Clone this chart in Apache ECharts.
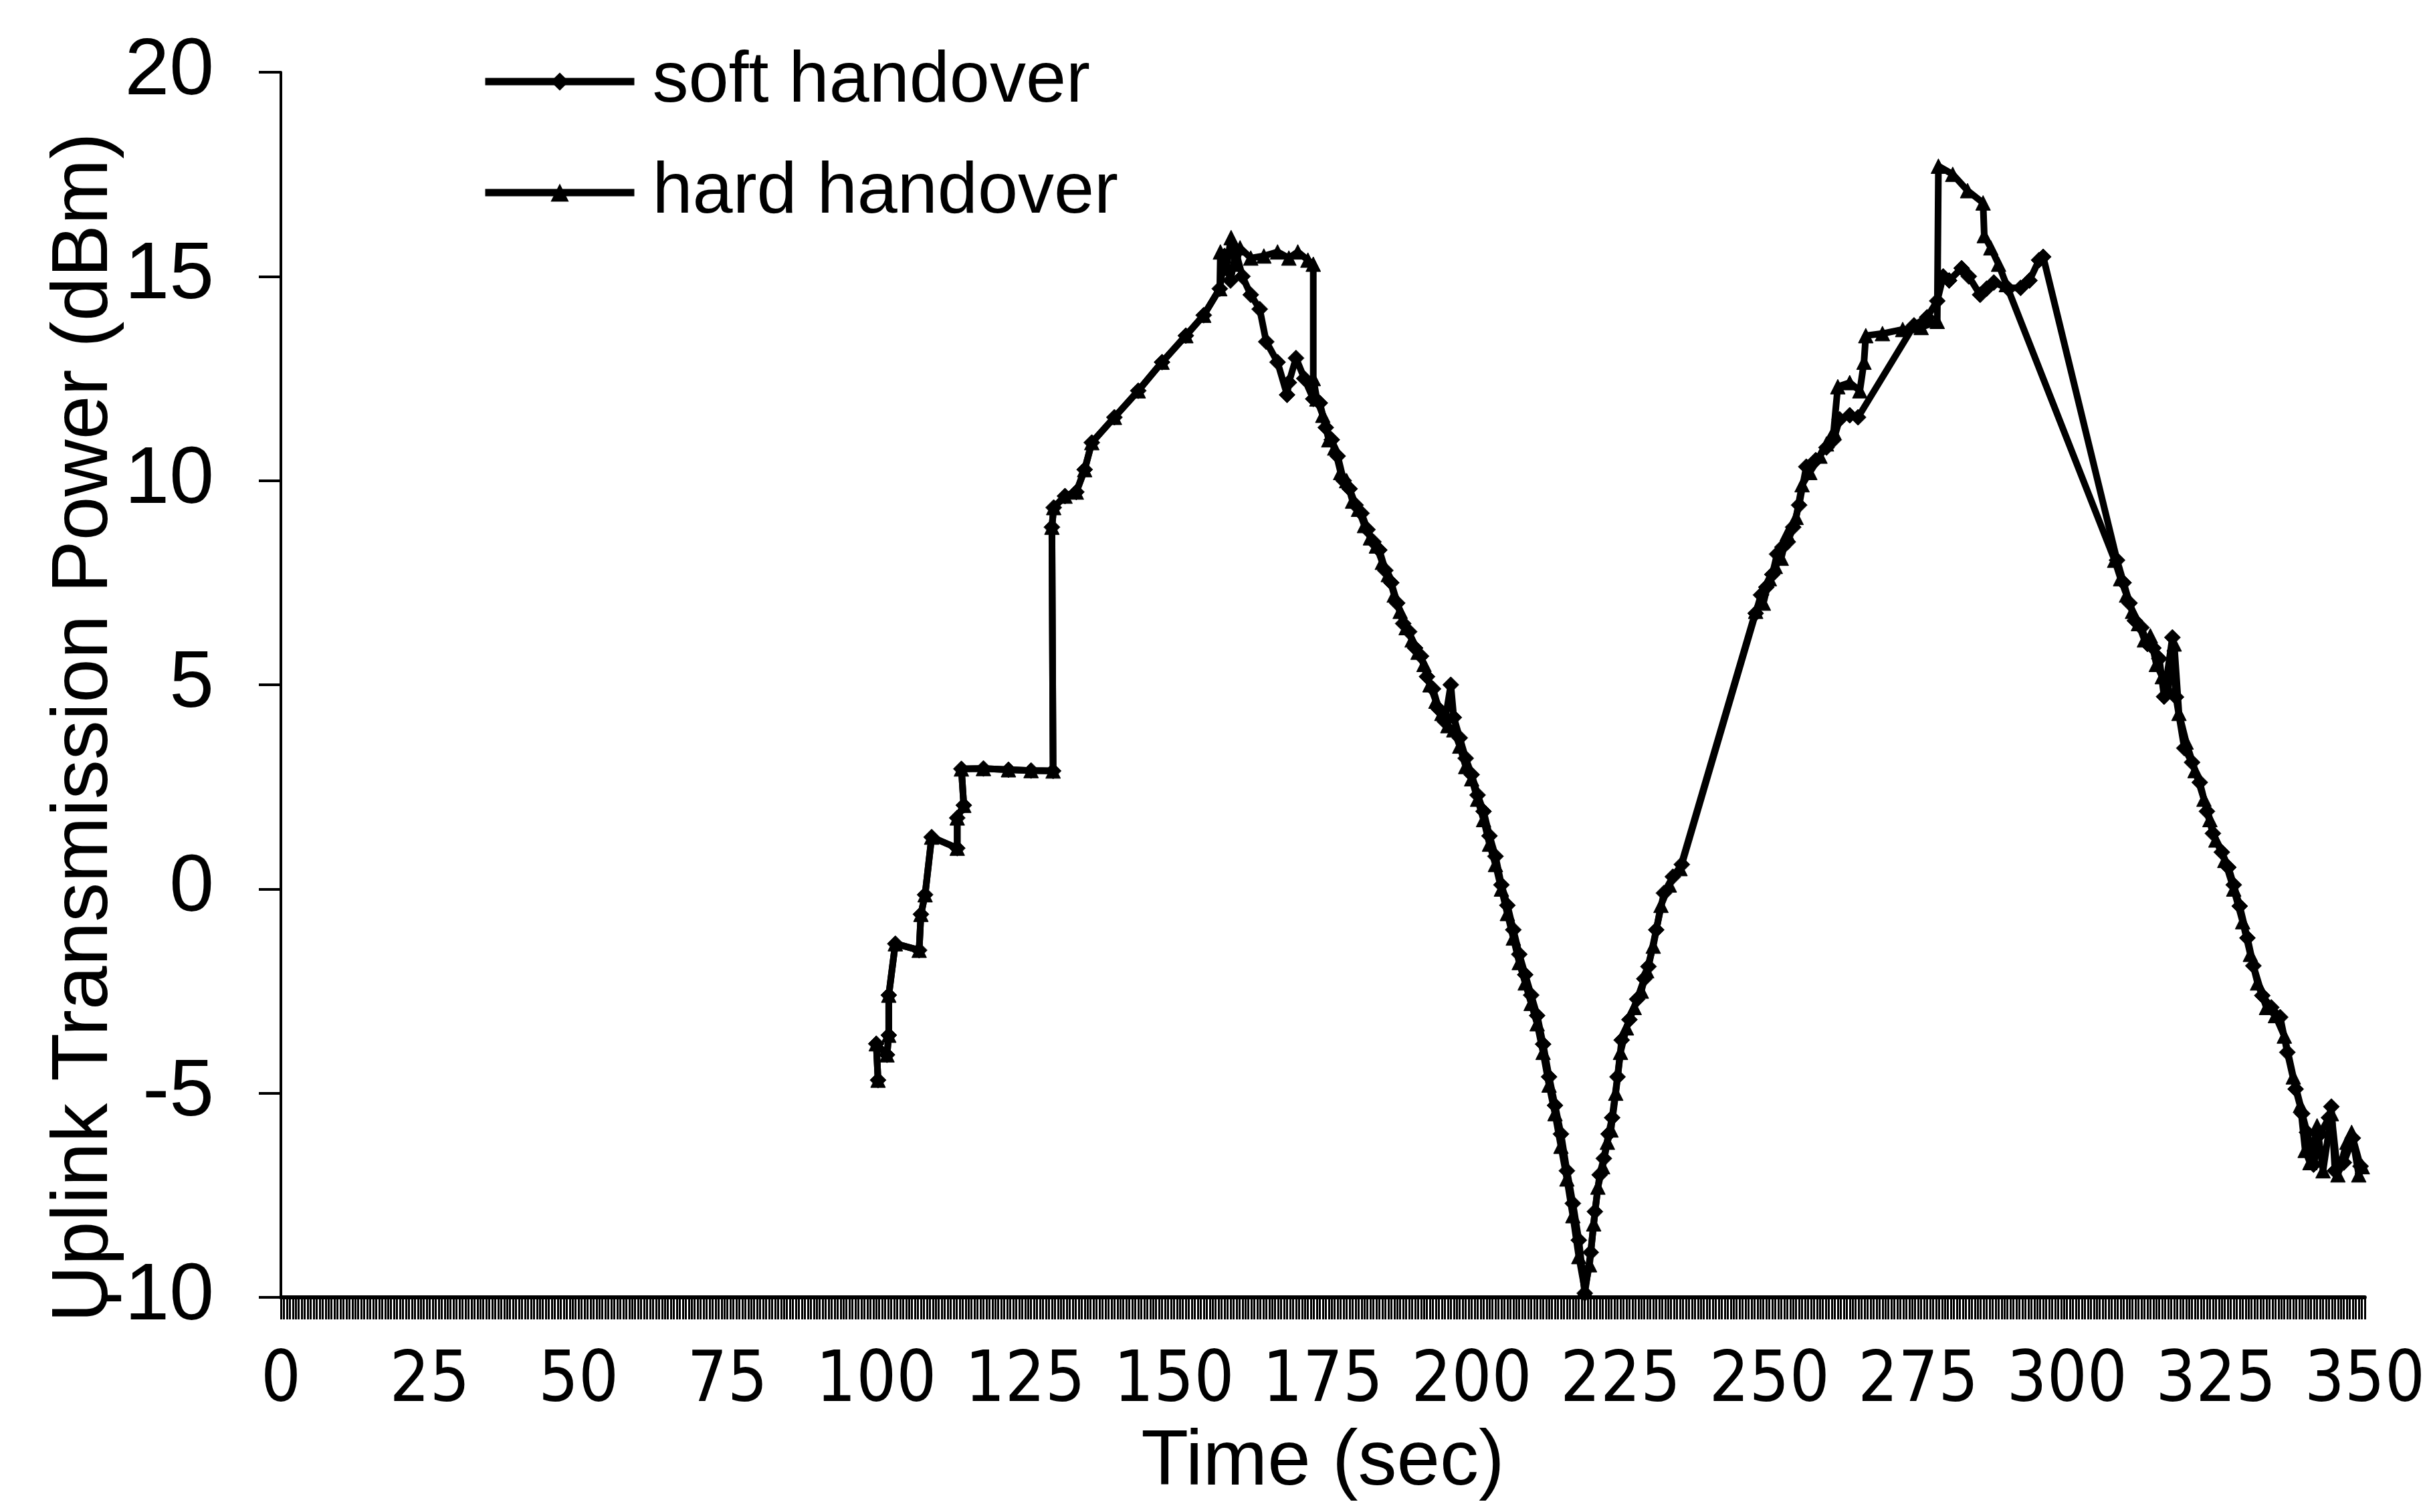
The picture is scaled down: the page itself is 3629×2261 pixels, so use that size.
<!DOCTYPE html>
<html>
<head>
<meta charset="utf-8">
<script src="https://cdn.jsdelivr.net/npm/echarts@6/dist/echarts.min.js"></script>
<style>
html, body { margin: 0; padding: 0; background: #fff; }
#chart { width: 3629px; height: 2261px; }
</style>
</head>
<body>
<div id="chart"></div>
<script>
// time (sec) / power (dBm)
var softTime = [100.3,100.0,101.8,102.1,102.1,103.2,107.2,107.5,108.2,109.3,113.6,113.6,114.7,114.3,118,122.2,126,129.7,129.5,129.8,131.7,133.6,135,136.2,140,144,148,152,155,157.7,
    158.5,159.5,160.4,161.5,162.9,164.4,165.5,167.4,169.0,169.3,170.5,171.9,173.4,
    174.5,175.5,176.5,177.5,178.5,179.5,180.5,181.5,182.5,183.5,184.5,185.5,186.5,187.5,188.5,189.5,190.5,191.5,192.5,193.5,194.5,195.5,196.5,197,198,199,200,201,202,203,204,205,206,207,208,209,210,211,212,213,214,215,216,217,218,219,
    220,220.7,221.5,222.2,223,223.6,224.5,225.2,226.5,227.8,229,229.7,231,232.3,233.8,235.3,
    247.7,248.6,249.5,250.5,251.3,252.2,253.1,254,255,256.2,257.8,259.6,260.8,261.8,263.5,264.9,274.3,276.5,278.2,279.2,280.2,282.3,283.5,285.4,286.5,287.7,290,292.2,293.7,295.3,296,
    308.4,309.5,310.5,311.4,312.5,313.5,314.5,315.5,316.3,317.7,318.3,319.7,321,322.3,323.5,324.5,326,327.1,328,329,330.3,331.3,332.8,334.3,335.8,337,338.4,339.5,340.3,341.4,342.5,344,344.4,345,346.5,348,349.3];
var softPower = [-4.68,-3.79,-4.06,-3.58,-2.6,-1.34,-1.5,-0.62,-0.14,1.27,1.0,1.74,2.05,2.94,2.95,2.92,2.9,2.89,8.86,9.34,9.62,9.72,10.27,10.93,11.55,12.2,12.9,13.55,14.05,14.7,
    15.5,14.9,15.6,15.0,14.55,14.2,13.4,12.9,12.1,12.4,13.0,12.5,12.0,
    11.9,11.3,11.0,10.6,10.0,9.8,9.4,9.2,8.8,8.5,8.3,7.8,7.5,7.0,6.5,6.3,5.9,5.7,5.2,4.9,4.4,4.1,5.0,4.2,3.7,3.2,2.8,2.3,1.9,1.3,0.8,0.1,-0.4,-1.0,-1.6,-2.1,-2.6,-3.1,-3.8,-4.6,-5.3,-6.0,-6.9,-7.7,-8.6,-9.9,
    -8.9,-7.9,-7.0,-6.6,-6.0,-5.6,-4.6,-3.7,-3.2,-2.7,-2.2,-1.9,-1.0,-0.1,0.3,0.6,
    6.75,7.2,7.39,7.7,8.2,8.37,8.5,8.86,9.4,10.34,10.5,10.81,11.0,11.5,11.6,11.55,13.8,14.0,14.4,15.0,14.9,15.2,15.0,14.55,14.7,14.85,14.72,14.72,14.9,15.4,15.48,
    8.05,7.5,7.0,6.57,6.4,6.0,5.9,5.64,4.71,6.16,4.7,3.45,3.1,2.61,1.9,1.36,0.9,0.53,0.1,-0.42,-1.2,-1.88,-2.61,-2.9,-3.14,-4.0,-4.9,-5.5,-5.96,-6.75,-6.0,-5.6,-5.33,-6.9,-6.7,-6.1,-6.79];

var hardTime = [100.3,100.0,101.8,102.1,102.1,103.2,107.2,107.5,108.2,109.3,113.6,113.6,114.7,114.3,118,122.2,126,129.7,129.5,129.8,131.7,133.6,135,136.2,140,144,148,152,155,157.7,
    157.8,158.8,159.6,160.4,161.1,162.9,165.1,167.4,169.3,170.8,172.5,173.4,173.4,
    174,175,176,177,178,179,180,181,182,183,184,185,186,187,188,189,190,191,192,193,194,195,196,197,198,199,200,201,202,203,204,205,206,207,208,209,210,211,212,213,214,215,216,217,218,219,
    219.8,220.5,221.2,222,222.8,223.4,224.2,225,226,227.3,228.5,229.4,230.5,231.8,233.2,235,
    247.7,249,250,251,252,253,254.5,255.5,256.8,258.5,259.6,260.8,261.5,263.5,265.2,265.9,266.2,269,272.4,275.5,278.2,278.4,280.8,283.3,285.9,286.1,287.2,288.5,289.8,
    308,309,310,311,312,313,314,315,316,317,318,318.8,320,321.5,323,324,325,326.5,328,329.5,330.8,332,333.5,335,336.5,338,339.2,340,340.8,342,343,344.4,345.5,347,347.8,349,349.6];
var hardPower = [-4.68,-3.79,-4.06,-3.58,-2.6,-1.34,-1.5,-0.62,-0.14,1.27,1.0,1.74,2.05,2.94,2.95,2.92,2.9,2.89,8.86,9.34,9.62,9.72,10.27,10.93,11.55,12.2,12.9,13.55,14.05,14.7,
    15.6,15.2,15.95,15.3,15.7,15.45,15.5,15.6,15.45,15.6,15.4,15.3,12.5,
    12.0,11.6,11.0,10.8,10.2,10.0,9.5,9.3,8.9,8.6,8.4,8.0,7.7,7.2,6.8,6.4,6.1,5.8,5.5,5.0,4.6,4.3,4.0,3.9,3.5,3.0,2.7,2.2,1.7,1.1,0.6,0.0,-0.6,-1.2,-1.8,-2.3,-2.8,-3.3,-4.0,-4.8,-5.5,-6.3,-7.1,-8.0,-9.0,-9.8,
    -9.2,-8.2,-7.3,-6.8,-6.2,-5.9,-5.0,-4.0,-3.4,-2.9,-2.5,-2.0,-1.4,-0.4,0.1,0.5,
    6.8,7.0,7.6,7.9,8.1,8.7,9.1,9.9,10.2,10.6,10.9,11.2,12.3,12.4,12.2,12.9,13.55,13.6,13.7,13.75,13.9,17.7,17.5,17.1,16.8,16.0,15.7,15.3,14.8,
    8.05,7.6,7.2,6.8,6.5,6.1,6.2,5.5,5.2,4.9,6.0,4.3,3.6,2.9,2.2,1.7,1.2,0.7,0.0,-0.8,-1.6,-2.3,-2.9,-3.1,-3.6,-4.6,-5.3,-6.4,-6.7,-5.8,-6.9,-5.5,-7.0,-6.2,-5.96,-7.0,-6.8];

var xTicks = [0, 350, 25];
var yTicks = [-10, 20, 5];

function pairs(t, v) {
    var out = [];
    for (var i = 0; i < t.length; i++) {
        out.push([t[i], v[i]]);
    }
    return out;
}

var chart = echarts.init(document.getElementById('chart'));
var font = "'Liberation Sans', Arial, sans-serif";
var option = {
    backgroundColor: '#fff',
    animation: false,
    grid: { left: 420, right: 92, top: 108, bottom: 321 },
    legend: {
        orient: 'vertical',
        left: 715,
        top: 57,
        itemWidth: 223,
        itemHeight: 34,
        itemGap: 46,
        lineStyle: { width: 11, color: '#000' },
        textStyle: { fontFamily: font, fontSize: 108, lineHeight: 120, color: '#000', padding: [0, 0, 0, 22] },
        data: ['soft handover', 'hard handover']
    },
    xAxis: {
        type: 'value',
        min: xTicks[0],
        max: xTicks[1],
        interval: xTicks[2],
        name: 'Time (sec)',
        nameLocation: 'middle',
        nameGap: 190,
        nameMoveOverlap: false,
        nameTextStyle: { fontFamily: font, fontSize: 116, color: '#000' },
        axisLine: { onZero: false, lineStyle: { color: '#000', width: 6 } },
        axisTick: { length: 33, lineStyle: { color: '#000', width: 3 } },
        minorTick: { show: true, splitNumber: 50, length: 33, lineStyle: { color: '#000', width: 3 } },
        axisLabel: { margin: 75, fontFamily: "'Liberation Sans Narrow', 'DejaVu Sans Condensed', 'Liberation Sans', Arial", fontSize: 105, color: '#000' },
        splitLine: { show: false }
    },
    yAxis: {
        type: 'value',
        min: yTicks[0],
        max: yTicks[1],
        interval: yTicks[2],
        name: 'Uplink Transmission Power (dBm)',
        nameLocation: 'middle',
        nameGap: 234,
        nameMoveOverlap: false,
        nameTextStyle: { fontFamily: font, fontSize: 118, color: '#000', padding: [0, 128, 0, 0] },
        axisLine: { show: true, lineStyle: { color: '#000', width: 4 } },
        axisTick: { show: true, length: 33, lineStyle: { color: '#000', width: 4 } },
        axisLabel: { margin: 100, fontFamily: font, fontSize: 120, color: '#000' },
        splitLine: { show: false }
    },
    series: [
        {
            name: 'soft handover',
            type: 'line',
            data: pairs(softTime, softPower),
            symbol: 'diamond',
            symbolSize: 24,
            showAllSymbol: true,
            lineStyle: { color: '#000', width: 10 },
            itemStyle: { color: '#000', borderColor: '#000' }
        },
        {
            name: 'hard handover',
            type: 'line',
            data: pairs(hardTime, hardPower),
            symbol: 'triangle',
            symbolSize: 22,
            showAllSymbol: true,
            lineStyle: { color: '#000', width: 10 },
            itemStyle: { color: '#000', borderColor: '#000' }
        }
    ]
};
chart.setOption(option);
</script>
</body>
</html>
